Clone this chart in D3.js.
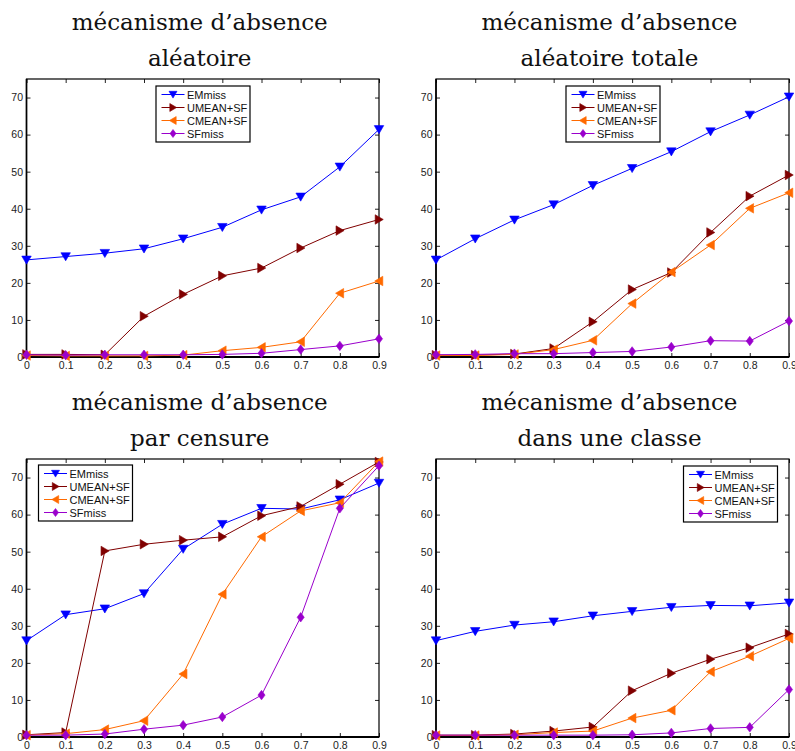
<!DOCTYPE html>
<html>
<head>
<meta charset="utf-8">
<script src="https://cdn.jsdelivr.net/npm/d3@7"></script>
<style>
  html, body { margin: 0; padding: 0; background: #fff; }
  svg { display: block; }
</style>
</head>
<body>
<svg id="chart" width="795" height="751"></svg>
<script>
// ---------- data ----------
const xValues = [0, 0.1, 0.2, 0.3, 0.4, 0.5, 0.6, 0.7, 0.8, 0.9];
const xTickLabels = ["0", "0.1", "0.2", "0.3", "0.4", "0.5", "0.6", "0.7", "0.8", "0.9"];
const yTicks = [0, 10, 20, 30, 40, 50, 60, 70];
const seriesNames = ["EMmiss", "UMEAN+SF", "CMEAN+SF", "SFmiss"];
const panelTitles = [
  ["mécanisme d’absence", "aléatoire"],
  ["mécanisme d’absence", "aléatoire totale"],
  ["mécanisme d’absence", "par censure"],
  ["mécanisme d’absence", "dans une classe"]
];

// panel 1 : aléatoire
const p1EMmiss = [26.2, 27.1, 28.0, 29.2, 31.9, 35.0, 39.7, 43.2, 51.3, 61.4];
const p1UMEAN  = [0.7, 0.7, 0.6, 11.0, 16.9, 21.9, 24.0, 29.4, 34.1, 37.1];
const p1CMEAN  = [0.4, 0.3, 0.3, 0.3, 0.5, 1.7, 2.6, 4.1, 17.2, 20.5];
const p1SFmiss = [0.6, 0.5, 0.6, 0.6, 0.6, 0.7, 1.0, 2.0, 3.0, 4.9];

// panel 2 : aléatoire totale
const p2EMmiss = [26.2, 31.9, 37.0, 41.1, 46.3, 50.9, 55.4, 60.8, 65.3, 70.2];
const p2UMEAN  = [0.5, 0.5, 0.8, 2.3, 9.5, 18.2, 22.8, 33.6, 43.4, 49.1];
const p2CMEAN  = [0.4, 0.4, 0.7, 2.0, 4.5, 14.4, 22.9, 30.2, 40.1, 44.3];
const p2SFmiss = [0.6, 0.7, 0.9, 0.9, 1.2, 1.5, 2.7, 4.4, 4.3, 9.7];

// panel 3 : par censure
const p3EMmiss = [26.0, 33.0, 34.6, 38.7, 50.7, 57.4, 61.7, 61.5, 64.0, 68.5];
const p3UMEAN  = [0.6, 1.2, 50.2, 52.0, 53.1, 54.0, 59.7, 62.2, 68.2, 74.2];
const p3CMEAN  = [0.5, 0.9, 2.0, 4.4, 17.0, 38.5, 54.0, 61.0, 63.2, 74.3];
const p3SFmiss = [0.5, 0.5, 0.8, 2.1, 3.2, 5.4, 11.3, 32.3, 61.7, 73.2];

// panel 4 : dans une classe
const p4EMmiss = [26.0, 28.5, 30.2, 31.1, 32.7, 33.9, 35.0, 35.5, 35.4, 36.2];
const p4UMEAN  = [0.5, 0.5, 0.8, 1.6, 2.7, 12.5, 17.2, 21.0, 24.1, 27.8];
const p4CMEAN  = [0.4, 0.4, 0.6, 1.2, 1.6, 5.1, 7.2, 17.6, 21.8, 26.6];
const p4SFmiss = [0.5, 0.5, 0.5, 0.5, 0.5, 0.6, 1.1, 2.3, 2.6, 12.8];

// ---------- styling / layout ----------
const colors = ["#0000ff", "#800000", "#ff6a00", "#9a00cc"];
const markerTypes = ["down", "right", "left", "diamond"];

const panels = [
  { title: panelTitles[0], data: [p1EMmiss, p1UMEAN, p1CMEAN, p1SFmiss], x0: 26.5, x1: 379, y0: 79, y1: 357, legend: [156, 86] },
  { title: panelTitles[1], data: [p2EMmiss, p2UMEAN, p2CMEAN, p2SFmiss], x0: 436, x1: 789, y0: 79, y1: 357, legend: [566, 86] },
  { title: panelTitles[2], data: [p3EMmiss, p3UMEAN, p3CMEAN, p3SFmiss], x0: 26.5, x1: 379, y0: 459, y1: 737, legend: [38.5, 465] },
  { title: panelTitles[3], data: [p4EMmiss, p4UMEAN, p4CMEAN, p4SFmiss], x0: 436, x1: 789, y0: 459, y1: 737, legend: [683.5, 466] }
];

function markerPath(type, s) {
  const h = s / 2;
  switch (type) {
    case "down": return `M${-h},${-h * 0.8}L${h},${-h * 0.8}L0,${h * 0.9}Z`;
    case "right": return `M${-h * 0.8},${-h}L${-h * 0.8},${h}L${h * 0.9},0Z`;
    case "left": return `M${h * 0.8},${-h}L${h * 0.8},${h}L${-h * 0.9},0Z`;
    case "diamond": return `M0,${-h}L${h * 0.75},0L0,${h}L${-h * 0.75},0Z`;
  }
}

const svg = d3.select("#chart");
const fontSans = "'Liberation Sans', Arial, Helvetica, sans-serif";
const fontSerif = "'DejaVu Serif', 'Liberation Serif', serif";

panels.forEach(p => {
  const g = svg.append("g");
  const x = d3.scaleLinear().domain([0, 0.9]).range([p.x0, p.x1]);
  const y = d3.scaleLinear().domain([0, 75]).range([p.y1, p.y0]);

  // title
  const cx = (p.x0 + p.x1) / 2 - 3;
  p.title.forEach((t, i) => {
    g.append("text")
      .attr("x", cx)
      .attr("y", p.y0 - 49.5 + i * 36)
      .attr("text-anchor", "middle")
      .attr("font-family", fontSerif)
      .attr("font-size", 23)
      .attr("fill", "#111")
      .text(t);
  });

  // axes (ticks inward)
  const xAxis = d3.axisBottom(x).tickValues(xValues).tickFormat((d, i) => xTickLabels[i]).tickSizeInner(-4).tickSizeOuter(0).tickPadding(4.5);
  const yAxis = d3.axisLeft(y).tickValues(yTicks).tickSizeInner(-4).tickSizeOuter(0).tickPadding(3.5);
  const xTop = d3.axisTop(x).tickValues(xValues).tickFormat("").tickSizeInner(-4).tickSizeOuter(0);
  const yRight = d3.axisRight(y).tickValues(yTicks).tickFormat("").tickSizeInner(-4).tickSizeOuter(0);

  const gx = g.append("g").attr("transform", `translate(0,${p.y1})`).call(xAxis);
  const gy = g.append("g").attr("transform", `translate(${p.x0},0)`).call(yAxis);
  const gxt = g.append("g").attr("transform", `translate(0,${p.y0})`).call(xTop);
  const gyr = g.append("g").attr("transform", `translate(${p.x1},0)`).call(yRight);
  [gx, gy, gxt, gyr].forEach(a => {
    a.select(".domain").remove();
    a.selectAll(".tick line").attr("stroke", "#222").attr("stroke-width", 1);
    a.selectAll(".tick text").attr("font-family", fontSans).attr("font-size", 10.5).attr("fill", "#222");
  });

  // frame
  g.append("rect")
    .attr("x", p.x0).attr("y", p.y0)
    .attr("width", p.x1 - p.x0).attr("height", p.y1 - p.y0)
    .attr("fill", "none").attr("stroke", "#000").attr("stroke-width", 1.2);
  g.append("line")
    .attr("x1", p.x0).attr("x2", p.x1).attr("y1", p.y1).attr("y2", p.y1)
    .attr("stroke", "#000").attr("stroke-width", 2);
  g.append("line")
    .attr("x1", p.x0).attr("x2", p.x0).attr("y1", p.y0).attr("y2", p.y1)
    .attr("stroke", "#000").attr("stroke-width", 1.6);

  // series
  const line = d3.line().x((d, i) => x(xValues[i])).y(d => y(d));
  p.data.forEach((vals, si) => {
    g.append("path").attr("d", line(vals))
      .attr("fill", "none").attr("stroke", colors[si]).attr("stroke-width", 1);
    g.selectAll(null).data(vals).enter().append("path")
      .attr("transform", (d, i) => `translate(${x(xValues[i])},${y(d)})`)
      .attr("d", markerPath(markerTypes[si], 9.5))
      .attr("fill", colors[si]).attr("stroke", colors[si]).attr("stroke-width", 0.6);
  });

  // legend
  const [lx, ly] = p.legend;
  const lg = g.append("g").attr("transform", `translate(${lx},${ly})`);
  lg.append("rect").attr("width", 94).attr("height", 56)
    .attr("fill", "#fff").attr("stroke", "#000").attr("stroke-width", 1.2);
  seriesNames.forEach((name, si) => {
    const ry = 8.5 + si * 13;
    lg.append("line").attr("x1", 5.5).attr("x2", 28.5).attr("y1", ry).attr("y2", ry)
      .attr("stroke", colors[si]).attr("stroke-width", 1);
    lg.append("path").attr("transform", `translate(17,${ry})`)
      .attr("d", markerPath(markerTypes[si], 8))
      .attr("fill", colors[si]).attr("stroke", colors[si]).attr("stroke-width", 0.6);
    lg.append("text").attr("x", 31).attr("y", ry + 4)
      .attr("font-family", fontSans).attr("font-size", 11).attr("fill", "#111")
      .text(name);
  });
});
</script>
</body>
</html>
